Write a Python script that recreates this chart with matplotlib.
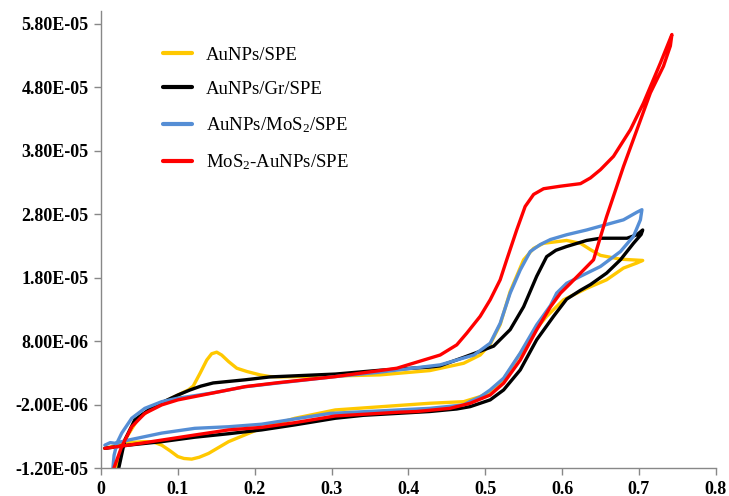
import matplotlib
matplotlib.use("Agg")
import matplotlib.pyplot as plt
from matplotlib.ticker import FixedLocator, FixedFormatter

plt.rcParams['font.family'] = ['Liberation Serif', 'DejaVu Serif']
plt.rcParams['mathtext.fontset'] = 'custom'
plt.rcParams['mathtext.rm'] = 'Liberation Serif'
plt.rcParams['mathtext.it'] = 'Liberation Serif:italic'
plt.rcParams['mathtext.bf'] = 'Liberation Serif:bold'

SCALE = 1e-6  # values below are in micro-amperes

labels = ['AuNPs/SPE', 'AuNPs/Gr/SPE', 'AuNPs/MoS$_2$/SPE', 'MoS$_2$-AuNPs/SPE']
colors = ['#FFC800', '#000000', '#558ED5', '#FF0000']

yellow_x = [0.018, 0.019, 0.031, 0.0486, 0.0703, 0.096, 0.1137, 0.120, 0.129, 0.1376, 0.144, 0.1506, 0.157,
            0.166, 0.1767, 0.19, 0.207, 0.22, 0.235,
            0.305, 0.363, 0.428, 0.472, 0.4935, 0.5065, 0.5195, 0.5325, 0.550, 0.563, 0.576, 0.606, 0.624, 0.637,
            0.650, 0.676, 0.705,
            0.6975, 0.680, 0.658, 0.632, 0.602, 0.580, 0.567, 0.5456, 0.524, 0.5065, 0.4935, 0.472, 0.428, 0.305,
            0.2526, 0.209, 0.166, 0.140, 0.128, 0.118, 0.108, 0.100, 0.090, 0.079, 0.068, 0.057, 0.0356, 0.005]
yellow_y = [-14, -12.3, -7.6, -4.16, -2.3, -0.75, 0.3, 0.9, 2.94, 5.0, 6.0, 6.25, 5.8,
            4.77, 3.72, 3.2, 2.67, 2.4, 2.35,
            2.5, 2.67, 3.35, 4.5, 5.8, 7.5, 10.6, 15.8, 20.8, 22.6, 23.4, 23.85, 23.4, 22.4,
            21.5, 20.9, 20.7,
            20.3, 19.5, 17.65, 16.3, 14.5, 11.9, 10.0, 6.0, 2.0, 0.0, -0.75, -1.55, -1.8, -2.85,
            -4.16, -5.7, -7.85, -9.7, -10.3, -10.6, -10.5, -10.2, -9.3, -8.4, -7.9, -7.85, -8.0, -8.9]

black_x = [0.021, 0.0226, 0.031, 0.044, 0.062, 0.079, 0.100, 0.116, 0.130, 0.146, 0.188, 0.22, 0.305, 0.363, 0.428,
           0.4414, 0.4735, 0.4935, 0.511, 0.5325, 0.550, 0.567, 0.580, 0.592, 0.606, 0.632, 0.650, 0.6845,
           0.6975, 0.705,
           0.703, 0.693, 0.676, 0.658, 0.637, 0.624, 0.606, 0.589, 0.567, 0.5456, 0.524, 0.5065, 0.4805,
           0.463, 0.428, 0.385, 0.3415, 0.305, 0.2526, 0.209, 0.166, 0.122, 0.079, 0.0356, 0.005]
black_y = [-14, -12.3, -7.6, -4.4, -2.85, -1.7, -0.5, 0.3, 0.9, 1.4, 1.9, 2.35, 2.8, 3.4, 3.9,
           4.1, 5.5, 6.4, 7.2, 9.8, 13.4, 18.2, 21.3, 22.3, 22.9, 23.85, 24.2, 24.2,
           24.75, 25.5,
           24.8, 23.4, 20.8, 18.7, 16.9, 16.0, 14.6, 11.9, 8.2, 3.45, 0.3, -1.27, -2.33,
           -2.7, -3.1, -3.4, -3.7, -4.16, -5.2, -6.0, -6.6, -7.15, -7.85, -8.4, -8.9]

blue_x = [0.014, 0.017, 0.021, 0.027, 0.040, 0.057, 0.079, 0.100, 0.144, 0.1875, 0.231, 0.305, 0.363, 0.4414,
          0.4854, 0.5065, 0.5195, 0.5325, 0.5456, 0.5586, 0.5716, 0.585, 0.606, 0.632, 0.650, 0.680, 0.6975, 0.704,
          0.702, 0.693, 0.676, 0.650, 0.624, 0.606, 0.593, 0.585, 0.567, 0.5456, 0.524, 0.5065, 0.4935,
          0.4805, 0.472, 0.428, 0.298, 0.209, 0.166, 0.122, 0.079, 0.0356, 0.018, 0.012, 0.005]
blue_y = [-14, -10, -8, -6.5, -4.16, -2.6, -1.55, -1.0, -0.2, 0.8, 1.4, 2.4, 3.1, 4.25,
          5.8, 7.67, 10.8, 15.55, 19.2, 22.1, 23.2, 24.0, 24.75, 25.5, 26.1, 27.1, 28.3, 28.7,
          27.1, 24.5, 22.1, 19.75, 18.2, 17.1, 15.55, 13.6, 10.55, 6.1, 2.15, 0.3, -0.8,
          -1.5, -2.06, -2.6, -3.4, -5.1, -5.5, -5.75, -6.5, -7.6, -8.1, -8.0, -8.4]

red_x = [0.015, 0.016, 0.027, 0.040, 0.057, 0.079, 0.100, 0.144, 0.1875, 0.231, 0.305, 0.3415, 0.385, 0.4414,
         0.463, 0.476, 0.4935, 0.5065, 0.5195, 0.528, 0.541, 0.552, 0.563, 0.576, 0.598, 0.624, 0.637, 0.650,
         0.667, 0.689, 0.706, 0.728, 0.743,
         0.741, 0.732, 0.715, 0.6975, 0.680, 0.658, 0.641, 0.624, 0.611, 0.598, 0.585, 0.567, 0.5456,
         0.524, 0.5065, 0.4805, 0.454, 0.411, 0.389, 0.305, 0.2526, 0.209, 0.166, 0.122, 0.079, 0.0356, 0.005]
red_y = [-14, -12.3, -8.6, -5.5, -3.4, -2.06, -1.27, -0.22, 0.82, 1.45, 2.4, 3.0, 3.72, 5.8,
         7.4, 9.24, 11.9, 14.5, 17.65, 20.8, 25.5, 29.2, 31.1, 32.0, 32.4, 32.8, 33.7, 35.0,
         37.1, 41.3, 45.5, 51.8, 56.3,
         54.5, 51.3, 47.1, 41.3, 35.5, 27.6, 20.8, 18.7, 17.1, 15.55, 13.4, 9.77, 5.0,
         1.36, -0.5, -1.8, -2.6, -3.1, -3.2, -3.8, -4.85, -5.6, -6.0, -6.8, -7.6, -8.4, -8.9]

xticks = [0, 0.1, 0.2, 0.3, 0.4, 0.5, 0.6, 0.7, 0.8]
xtick_labels = ['0', '0.1', '0.2', '0.3', '0.4', '0.5', '0.6', '0.7', '0.8']
yticks = [-1.2e-05, -2.0e-06, 8.0e-06, 1.8e-05, 2.8e-05, 3.8e-05, 4.8e-05, 5.8e-05]
ytick_labels = ['-1.20E-05', '-2.00E-06', '8.00E-06', '1.80E-05', '2.80E-05', '3.80E-05', '4.80E-05', '5.80E-05']

fig = plt.figure(figsize=(7.29, 4.96), dpi=100)
ax = fig.add_axes([101 / 729, 1 - 468 / 496, (715.7 - 101) / 729, (468 - 11) / 496])

series = [(yellow_x, yellow_y), (black_x, black_y), (blue_x, blue_y), (red_x, red_y)]
handles = []
for (xs, ys), lab, col in zip(series, labels, colors):
    h, = ax.plot(xs, [v * SCALE for v in ys], color=col, lw=2.4, label=lab,
                 solid_joinstyle='round', solid_capstyle='round')
    handles.append(h)

ax.set_xlim(0, 0.8)
ax.set_ylim(-1.2e-05, 6.0e-05)
ax.xaxis.set_major_locator(FixedLocator(xticks))
ax.xaxis.set_major_formatter(FixedFormatter(xtick_labels))
ax.yaxis.set_major_locator(FixedLocator(yticks))
ax.yaxis.set_major_formatter(FixedFormatter(ytick_labels))

for s in ['top', 'right']:
    ax.spines[s].set_visible(False)
for s in ['left', 'bottom']:
    ax.spines[s].set_color('#888888')
    ax.spines[s].set_linewidth(1.0)
ax.tick_params(axis='both', direction='out', length=5, width=1.0, color='#888888',
               labelsize=13, pad=4)
for lab in ax.get_xticklabels() + ax.get_yticklabels():
    lab.set_fontweight('bold')

leg = ax.legend(handles=handles, loc='upper left', bbox_to_anchor=(163 / 729, 1 - 46.5 / 496),
                bbox_transform=fig.transFigure, frameon=False, fontsize=13.5,
                handlelength=1.55, handletextpad=0.75, labelspacing=0.92,
                borderpad=0, borderaxespad=0)
for line in leg.get_lines():
    line.set_linewidth(3.0)

fig.savefig('out.png', dpi=100)
